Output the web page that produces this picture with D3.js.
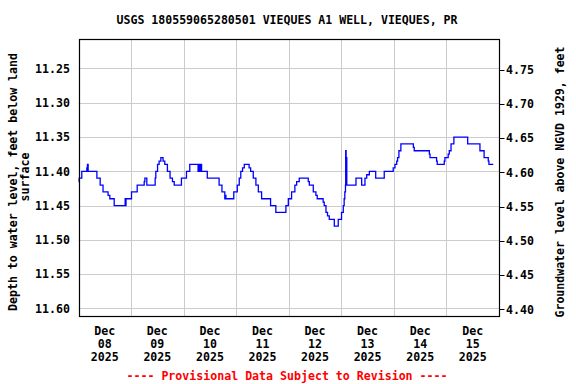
<!DOCTYPE html>
<html>
<head>
<meta charset="utf-8">
<script src="https://cdn.jsdelivr.net/npm/d3@7"></script>
<style>
  html, body { margin: 0; padding: 0; background: #fff; }
  svg { display: block; }
  text { font-family: "DejaVu Sans Mono", "Liberation Mono", monospace; font-weight: bold; }
</style>
</head>
<body>
<svg id="chart" width="576" height="384"></svg>
<script>
// ---- data ----
const title = "USGS 180559065280501 VIEQUES A1 WELL, VIEQUES, PR";
const leftLabel1 = "Depth to water level, feet below land";
const leftLabel2 = "surface";
const rightLabel = "Groundwater level above NGVD 1929, feet";
const footnote = "---- Provisional Data Subject to Revision ----";
const startDate = new Date(2025, 11, 8, 0, 0);
const endDate = new Date(2025, 11, 16, 0, 0);
const dayLabels = ["08", "09", "10", "11", "12", "13", "14", "15"];
const depthTicks = [11.25, 11.30, 11.35, 11.40, 11.45, 11.50, 11.55, 11.60];
const elevTicks = [4.75, 4.70, 4.65, 4.60, 4.55, 4.50, 4.45, 4.40];
const landSurface = 16.0015;

// hours since Dec 08 00:00 and depth below land surface (ft)
const hours = [
  0, 0.3, 1.5, 3.8, 4.1, 4.4, 8.4, 9.9, 11.2, 13.5, 14.3, 16.3, 21.3, 21.5, 21.7,
  24.2, 26.8, 30.0, 30.3, 31.2, 35.0, 35.3, 36.1, 36.8, 37.6, 38.6, 39.4, 40.6, 41.8,
  42.9, 43.7, 47.0, 49.3, 50.8, 54.6, 54.85, 55.1, 55.35, 55.6, 55.85, 56.2, 58.8,
  64.2, 65.5, 66.8, 67.0, 67.3, 70.9, 72.5, 73.4, 74.1, 74.9, 75.7, 77.9, 78.6, 79.8,
  81.0, 82.1, 83.6, 87.7, 90.1, 94.7, 95.8, 97.3, 98.8, 99.6, 100.8, 104.9, 105.4,
  107.2, 108.4, 109.0, 111.7, 112.2, 113.0, 113.7, 114.5, 116.8, 118.6, 120.1, 120.9,
  121.3, 121.6, 121.9, 122.0, 122.2, 122.3, 122.5, 126.7, 129.3, 130.8, 131.6, 132.8,
  135.7, 139.6, 143.7, 144.5, 145.3, 145.7, 146.3, 147.2, 152.9, 153.3, 160.2, 160.5,
  163.5, 163.8, 167.0, 167.3, 168.8, 169.3, 170.1, 171.4, 177.7, 183.3, 185.2, 187.1,
  187.4, 189.4
];
const depth = [
  11.415, 11.41, 11.40, 11.395, 11.39, 11.40, 11.41, 11.42, 11.43, 11.435, 11.44, 11.45, 11.44, 11.45, 11.44,
  11.43, 11.42, 11.415, 11.41, 11.42, 11.41, 11.40, 11.39, 11.385, 11.38, 11.385, 11.39, 11.40, 11.41,
  11.415, 11.42, 11.41, 11.40, 11.39, 11.40, 11.39, 11.40, 11.39, 11.40, 11.39, 11.40, 11.41,
  11.42, 11.43, 11.44, 11.435, 11.44, 11.43, 11.42, 11.41, 11.40, 11.395, 11.39, 11.395, 11.40, 11.41,
  11.42, 11.43, 11.44, 11.45, 11.46, 11.45, 11.44, 11.43, 11.42, 11.415, 11.41, 11.415, 11.42,
  11.43, 11.435, 11.44, 11.445, 11.45, 11.46, 11.465, 11.47, 11.48, 11.47, 11.46, 11.45,
  11.44, 11.43, 11.42, 11.37, 11.42, 11.38, 11.42, 11.41, 11.42, 11.41, 11.405, 11.40,
  11.41, 11.40, 11.395, 11.39, 11.385, 11.38, 11.37, 11.36, 11.365, 11.37, 11.375, 11.38,
  11.385, 11.39, 11.385, 11.38, 11.375, 11.37, 11.36, 11.35, 11.36, 11.37, 11.38, 11.385,
  11.39, 11.39
];

// ---- chart ----
const svg = d3.select("#chart");
const L = 78.5, R = 499, T = 39, B = 316;

const x = d3.scaleTime().domain([startDate, endDate]).range([L, R]);
const y = d3.scaleLinear().domain([11.207, 11.611]).range([T, B]);
const y2 = d3.scaleLinear()
  .domain([landSurface - 11.207, landSurface - 11.611]).range([T, B]);

const data = hours.map((h, i) => ({ t: d3.timeMinute.offset(startDate, Math.round(h * 60)), v: depth[i] }));

// grid
const gridG = svg.append("g");
gridG.selectAll("line.h").data(depthTicks).join("line")
  .attr("x1", L).attr("x2", R)
  .attr("y1", d => Math.round(y(d)) + 0.5).attr("y2", d => Math.round(y(d)) + 0.5)
  .attr("stroke", "#cccccc").attr("stroke-width", 1);
const midnights = d3.timeDay.range(d3.timeDay.offset(startDate, 1), endDate);
gridG.selectAll("line.v").data(midnights).join("line")
  .attr("y1", T).attr("y2", B)
  .attr("x1", d => Math.round(x(d)) + 0.5).attr("x2", d => Math.round(x(d)) + 0.5)
  .attr("stroke", "#cccccc").attr("stroke-width", 1);

// data line
const line = d3.line().x(d => x(d.t)).y(d => y(d.v)).curve(d3.curveStepAfter);
svg.append("path").datum(data)
  .attr("d", line).attr("fill", "none")
  .attr("stroke", "#0000ff").attr("stroke-width", 1.3);

// frame
svg.append("rect").attr("x", Math.round(L) + 0.5).attr("y", T + 0.5)
  .attr("width", Math.round(R) - Math.round(L)).attr("height", B - T)
  .attr("fill", "none").attr("stroke", "#000").attr("stroke-width", 1.2);

// left axis labels
const fs = "11.6px";
svg.append("g").selectAll("text").data(depthTicks).join("text")
  .attr("x", 70).attr("y", d => y(d)).attr("dy", "0.36em")
  .attr("text-anchor", "end").attr("font-size", fs)
  .text(d => d.toFixed(2));

// right axis ticks and labels
const rAxis = svg.append("g");
rAxis.selectAll("line").data(elevTicks).join("line")
  .attr("x1", Math.round(R) + 0.5).attr("x2", Math.round(R) + 5.5)
  .attr("y1", d => Math.round(y2(d)) + 0.5).attr("y2", d => Math.round(y2(d)) + 0.5)
  .attr("stroke", "#000").attr("stroke-width", 1);
rAxis.selectAll("text").data(elevTicks).join("text")
  .attr("x", 506).attr("y", d => y2(d)).attr("dy", "0.36em")
  .attr("text-anchor", "start").attr("font-size", fs)
  .text(d => d.toFixed(2));

// x labels at noon of each day
const noons = d3.timeDay.range(startDate, endDate).map(d => d3.timeHour.offset(d, 12));
const xl = svg.append("g");
noons.forEach((d, i) => {
  const cx = x(d);
  xl.append("text").attr("x", cx).attr("y", 335).attr("text-anchor", "middle").attr("font-size", fs).text("Dec");
  xl.append("text").attr("x", cx).attr("y", 348).attr("text-anchor", "middle").attr("font-size", fs).text(dayLabels[i]);
  xl.append("text").attr("x", cx).attr("y", 361).attr("text-anchor", "middle").attr("font-size", fs).text("2025");
});

// title
svg.append("text").attr("x", 287).attr("y", 24).attr("text-anchor", "middle")
  .attr("font-size", fs).attr("textLength", 341).attr("lengthAdjust", "spacingAndGlyphs").text(title);

// left axis title
svg.append("text").attr("transform", "translate(17,182) rotate(-90)")
  .attr("text-anchor", "middle").attr("font-size", fs)
  .attr("textLength", 258).attr("lengthAdjust", "spacingAndGlyphs").text(leftLabel1);
svg.append("text").attr("transform", "translate(29,177) rotate(-90)")
  .attr("text-anchor", "middle").attr("font-size", fs).text(leftLabel2);

// right axis title
svg.append("text").attr("transform", "translate(564,182) rotate(-90)")
  .attr("text-anchor", "middle").attr("font-size", fs)
  .attr("textLength", 271).attr("lengthAdjust", "spacingAndGlyphs").text(rightLabel);

// footnote
svg.append("text").attr("x", 287).attr("y", 380).attr("text-anchor", "middle")
  .attr("font-size", fs).attr("fill", "#ff0000")
  .attr("textLength", 321).attr("lengthAdjust", "spacingAndGlyphs").text(footnote);
</script>
</body>
</html>
